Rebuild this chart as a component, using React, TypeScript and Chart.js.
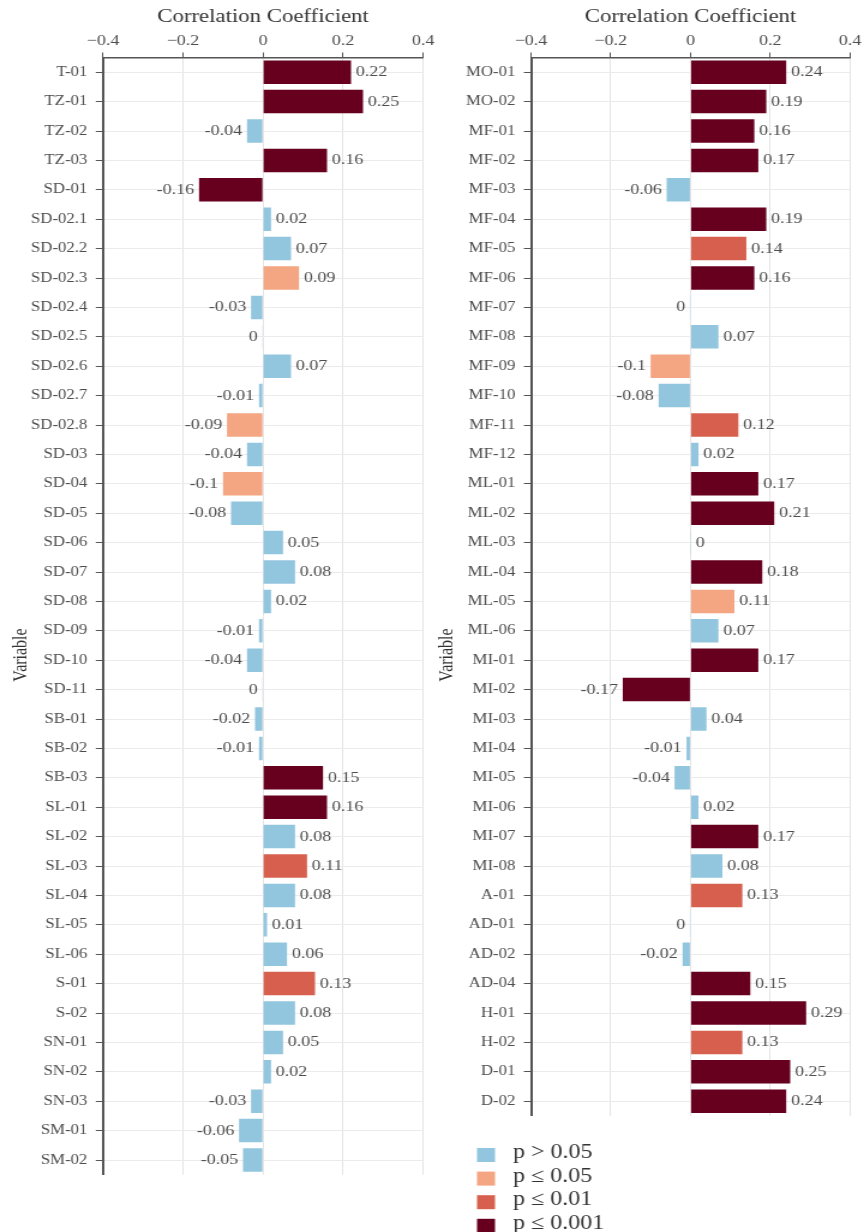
import React, { useEffect, useRef } from "react";
import { Chart, registerables } from "chart.js";

Chart.register(...registerables);

// ---------- data ----------
const leftVariables = [
  "T-01", "TZ-01", "TZ-02", "TZ-03", "SD-01", "SD-02.1", "SD-02.2", "SD-02.3", "SD-02.4", "SD-02.5",
  "SD-02.6", "SD-02.7", "SD-02.8", "SD-03", "SD-04", "SD-05", "SD-06", "SD-07", "SD-08", "SD-09",
  "SD-10", "SD-11", "SB-01", "SB-02", "SB-03", "SL-01", "SL-02", "SL-03", "SL-04", "SL-05",
  "SL-06", "S-01", "S-02", "SN-01", "SN-02", "SN-03", "SM-01", "SM-02",
];
const leftValues = [
  0.22, 0.25, -0.04, 0.16, -0.16, 0.02, 0.07, 0.09, -0.03, -0.001,
  0.07, -0.01, -0.09, -0.04, -0.1, -0.08, 0.05, 0.08, 0.02, -0.01,
  -0.04, -0.001, -0.02, -0.01, 0.15, 0.16, 0.08, 0.11, 0.08, 0.01,
  0.06, 0.13, 0.08, 0.05, 0.02, -0.03, -0.06, -0.05,
];
// 0: p > 0.05, 1: p <= 0.05, 2: p <= 0.01, 3: p <= 0.001
const leftSignificance = [
  3, 3, 0, 3, 3, 0, 0, 1, 0, 0,
  0, 0, 1, 0, 1, 0, 0, 0, 0, 0,
  0, 0, 0, 0, 3, 3, 0, 2, 0, 0,
  0, 2, 0, 0, 0, 0, 0, 0,
];

const rightVariables = [
  "MO-01", "MO-02", "MF-01", "MF-02", "MF-03", "MF-04", "MF-05", "MF-06", "MF-07", "MF-08",
  "MF-09", "MF-10", "MF-11", "MF-12", "ML-01", "ML-02", "ML-03", "ML-04", "ML-05", "ML-06",
  "MI-01", "MI-02", "MI-03", "MI-04", "MI-05", "MI-06", "MI-07", "MI-08", "A-01", "AD-01",
  "AD-02", "AD-04", "H-01", "H-02", "D-01", "D-02",
];
const rightValues = [
  0.24, 0.19, 0.16, 0.17, -0.06, 0.19, 0.14, 0.16, -0.001, 0.07,
  -0.1, -0.08, 0.12, 0.02, 0.17, 0.21, 0.001, 0.18, 0.11, 0.07,
  0.17, -0.17, 0.04, -0.01, -0.04, 0.02, 0.17, 0.08, 0.13, -0.001,
  -0.02, 0.15, 0.29, 0.13, 0.25, 0.24,
];
const rightSignificance = [
  3, 3, 3, 3, 0, 3, 2, 3, 0, 0,
  1, 0, 2, 0, 3, 3, 0, 3, 1, 0,
  3, 3, 0, 0, 0, 0, 3, 0, 2, 0,
  0, 3, 3, 2, 3, 3,
];

const significanceLabels = ["p > 0.05", "p \u2264 0.05", "p \u2264 0.01", "p \u2264 0.001"];
const significanceColors = ["#92c5de", "#f4a582", "#d6604d", "#67001f"];
const xTicks = [-0.4, -0.2, 0, 0.2, 0.4];
const xTitle = "Correlation Coefficient";
const yTitle = "Variable";

// ---------- helpers ----------
const FONT = "Liberation Serif";
const STRETCH = 1.2;

function fmtValue(v: number): string {
  const r = Math.round(v * 100) / 100;
  return String(r === 0 ? 0 : r);
}
function fmtTick(v: number): string {
  const r = Math.round(v * 10) / 10;
  if (r === 0) return "0";
  return r < 0 ? "\u2212" + String(Math.abs(r)) : String(r);
}

const valueLabelPlugin = (values: number[]) => ({
  id: "valueLabels",
  afterDatasetsDraw(chart: any) {
    const ctx = chart.ctx;
    const meta = chart.getDatasetMeta(0);
    ctx.save();
    ctx.font = `15px "${FONT}"`;
    ctx.fillStyle = "#4d4d4d";
    ctx.textBaseline = "middle";
    meta.data.forEach((bar: any, i: number) => {
      const v = values[i];
      const neg = v < 0;
      ctx.textAlign = neg ? "right" : "left";
      ctx.fillText(fmtValue(v), bar.x + (neg ? -4 : 4), bar.y);
    });
    ctx.restore();
  },
});

const yTitlePlugin = (x: number, y: number) => ({
  id: "yTitle",
  afterDraw(chart: any) {
    const ctx = chart.ctx;
    ctx.save();
    ctx.translate(x, y);
    ctx.rotate(-Math.PI / 2);
    ctx.font = `16px "${FONT}"`;
    ctx.fillStyle = "#333333";
    ctx.textAlign = "center";
    ctx.textBaseline = "middle";
    ctx.fillText(yTitle, 0, 0);
    ctx.restore();
  },
});

const legendPlugin = {
  id: "sigLegend",
  afterDraw(chart: any) {
    const ctx = chart.ctx;
    ctx.save();
    ctx.font = `20px "${FONT}"`;
    ctx.textBaseline = "middle";
    ctx.textAlign = "left";
    significanceLabels.forEach((label, i) => {
      const cy = 1155 + i * 23.6;
      ctx.fillStyle = significanceColors[i];
      ctx.fillRect(37.5, cy - 7, 15, 14);
      ctx.fillStyle = "#333333";
      ctx.fillText(label, 67.5, cy - 2);
    });
    ctx.restore();
  },
};

interface PanelCfg {
  yWidth: number;
  padRight: number;
  padBottom: number;
  titleX: number;
  legend: boolean;
}

function makeChart(
  canvas: HTMLCanvasElement,
  variables: string[],
  values: number[],
  sig: number[],
  cfg: PanelCfg
) {
  const plugins: any[] = [valueLabelPlugin(values), yTitlePlugin(cfg.titleX, 655)];
  if (cfg.legend) plugins.push(legendPlugin);
  return new Chart(canvas, {
    type: "bar",
    data: {
      labels: variables,
      datasets: [
        {
          data: values,
          backgroundColor: sig.map((s) => significanceColors[s]),
          borderWidth: 0,
          barPercentage: 0.8,
          categoryPercentage: 1,
        },
      ],
    },
    options: {
      indexAxis: "y",
      animation: false,
      responsive: false,
      events: [],
      layout: { padding: { left: 0, top: 0, right: cfg.padRight, bottom: cfg.padBottom } },
      plugins: { legend: { display: false }, tooltip: { enabled: false } },
      scales: {
        x: {
          type: "linear",
          position: "top",
          min: -0.4,
          max: 0.4,
          afterBuildTicks: (scale: any) => {
            scale.ticks = xTicks.map((v) => ({ value: v }));
          },
          afterFit: (scale: any) => {
            scale.height = 57.5;
          },
          ticks: {
            font: { family: FONT, size: 15 },
            color: "#4d4d4d",
            padding: 2,
            maxRotation: 0,
            callback: (v: any) => fmtTick(Number(v)),
          },
          grid: {
            color: "#e4e4e4",
            lineWidth: 1,
            drawTicks: true,
            tickLength: 5,
            tickColor: "#555555",
          },
          border: { display: true, color: "#555555", width: 1.5 },
          title: {
            display: true,
            text: xTitle,
            font: { family: FONT, size: 19 },
            color: "#333333",
            padding: { top: 6, bottom: 0 },
          },
        },
        y: {
          type: "category",
          position: "left",
          offset: true,
          afterFit: (scale: any) => {
            scale.width = cfg.yWidth;
          },
          ticks: {
            autoSkip: false,
            font: { family: FONT, size: 14 },
            color: "#4d4d4d",
            padding: 7,
          },
          grid: {
            offset: false,
            color: "#ebebeb",
            lineWidth: 1,
            drawTicks: true,
            tickLength: 6,
            tickColor: "#555555",
          },
          border: { display: true, color: "#555555", width: 2 },
        },
      },
    } as any,
    plugins,
  });
}

export default function App() {
  const leftRef = useRef<HTMLCanvasElement | null>(null);
  const rightRef = useRef<HTMLCanvasElement | null>(null);

  useEffect(() => {
    Chart.defaults.font.family = FONT;
    const charts: Chart[] = [];
    if (leftRef.current) {
      charts.push(
        makeChart(leftRef.current, leftVariables, leftValues, leftSignificance, {
          yWidth: 103 / STRETCH,
          padRight: 370 - 423 / STRETCH,
          padBottom: 1232 - 1174.7,
          titleX: 21 / STRETCH,
          legend: false,
        })
      );
    }
    if (rightRef.current) {
      charts.push(
        makeChart(rightRef.current, rightVariables, rightValues, rightSignificance, {
          yWidth: (531 - 432) / STRETCH,
          padRight: 360 - (850 - 432) / STRETCH,
          padBottom: 1232 - 1115.9,
          titleX: (447 - 432) / STRETCH,
          legend: true,
        })
      );
    }
    return () => charts.forEach((c) => c.destroy());
  }, []);

  const canvasStyle = (left: number, w: number): React.CSSProperties => ({
    position: "absolute",
    left,
    top: 0,
    width: w,
    height: 1232,
    transform: `scaleX(${STRETCH})`,
    transformOrigin: "0 0",
  });

  return (
    <div
      style={{
        position: "absolute",
        left: 0,
        top: 0,
        width: 864,
        height: 1232,
        overflow: "hidden",
        background: "#ffffff",
      }}
    >
      <canvas ref={leftRef} width={370} height={1232} style={canvasStyle(0, 370)} />
      <canvas ref={rightRef} width={360} height={1232} style={canvasStyle(432, 360)} />
    </div>
  );
}
